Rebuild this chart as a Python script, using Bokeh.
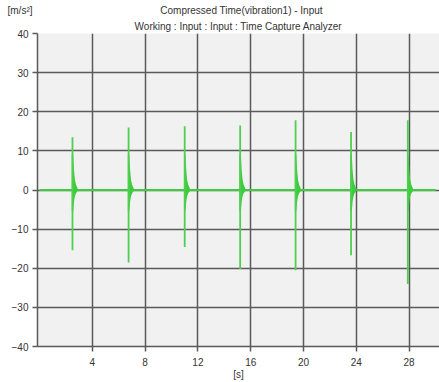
from bokeh.plotting import figure
from bokeh.models import FixedTicker, Range1d, Title
from bokeh.embed import file_html
from bokeh.resources import INLINE

# ---- data ----
burst_t = [2.5, 6.75, 11.0, 15.2, 19.4, 23.6, 27.9]          # s
pos_peak = [13.5, 16.0, 16.3, 16.5, 17.8, 14.8, 17.8]         # m/s²
neg_peak = [-15.4, -18.5, -14.6, -20.2, -20.5, -16.7, -24.0]  # m/s²
env_dt = [0.0, 0.06, 0.13, 0.22, 0.38]                        # s after impact
env_amp = [9.0, 5.0, 2.5, 1.2, 0.0]                           # decay envelope, m/s²
base_t = [0.0, 30.0]
base_v = [0.0, 0.0]
x_ticks = [4, 8, 12, 16, 20, 24, 28]
y_ticks = [-40, -30, -20, -10, 0, 10, 20, 30, 40]
unit_y = "[m/s²]"
unit_x = "[s]"
title_1 = "Compressed Time(vibration1) - Input"
title_2 = "Working : Input : Input : Time Capture Analyzer"

FONT = "Liberation Sans Narrow, Liberation Sans, Arial"
GREEN = "#3dcc3d"
GRID = "#5a5a5a"
TEXT = "#333333"

W, H = 439, 382
LB, TB, BB = 37, 33, 36
X0, X1, Y0, Y1 = -0.15, 30.3, -40, 40
p = figure(width=W, height=H, output_backend="svg", toolbar_location=None,
           x_range=Range1d(X0, X1), y_range=Range1d(Y0, Y1),
           min_border_left=LB, min_border_right=0, min_border_top=TB,
           min_border_bottom=BB)
p.outline_line_color = None
p.background_fill_color = "#f1f1f1"
p.border_fill_color = "white"

# grid
p.xgrid.ticker = FixedTicker(ticks=x_ticks)
p.ygrid.ticker = FixedTicker(ticks=y_ticks)
for g in (p.xgrid, p.ygrid):
    g.grid_line_color = GRID
    g.grid_line_width = 1.5

# axes
p.xaxis.ticker = FixedTicker(ticks=x_ticks)
p.yaxis.ticker = FixedTicker(ticks=y_ticks)
for ax in (p.xaxis, p.yaxis):
    ax.axis_line_color = GRID
    ax.axis_line_width = 1.5
    ax.major_tick_line_color = GRID
    ax.major_tick_line_width = 1.5
    ax.major_tick_out = 5
    ax.major_tick_in = 0
    ax.minor_tick_line_color = None
    ax.major_label_text_font = FONT
    ax.major_label_text_font_size = "10px"
    ax.major_label_text_color = TEXT
p.xaxis.major_label_standoff = 6
p.yaxis.major_label_standoff = 4
p.xaxis.axis_label = unit_x
p.xaxis.axis_label_text_font = FONT
p.xaxis.axis_label_text_font_size = "10px"
p.xaxis.axis_label_text_font_style = "normal"
p.xaxis.axis_label_text_color = TEXT
p.xaxis.axis_label_standoff = 0

# baseline signal
p.line(base_t, base_v, line_color=GREEN, line_width=2)

# bursts: decaying body + full spike
xs, ys = [], []
for t in burst_t:
    px = [t + d for d in env_dt] + [t + d for d in reversed(env_dt)]
    py = list(env_amp) + [-a * 0.6 for a in reversed(env_amp)]
    xs.append(px)
    ys.append(py)
p.patches(xs, ys, fill_color=GREEN, line_color=GREEN, line_width=1.5)
p.segment(x0=burst_t, y0=neg_peak, x1=burst_t, y1=pos_peak,
          line_color="#4fcf4f", line_width=1.8)

# titles (the first added sits nearest the plot); the unit label shares the top row
p.add_layout(Title(text=title_2, align="center", text_font=FONT, text_font_size="10px",
                   text_font_style="normal", text_color=TEXT, standoff=4), "above")
p.add_layout(Title(text=unit_y + "\u00a0" * 46 + title_1, align="left", offset=-30,
                   text_font=FONT, text_font_size="10px", text_font_style="normal",
                   text_color=TEXT, standoff=2), "above")

open("out.html", "w").write(file_html(p, INLINE))
